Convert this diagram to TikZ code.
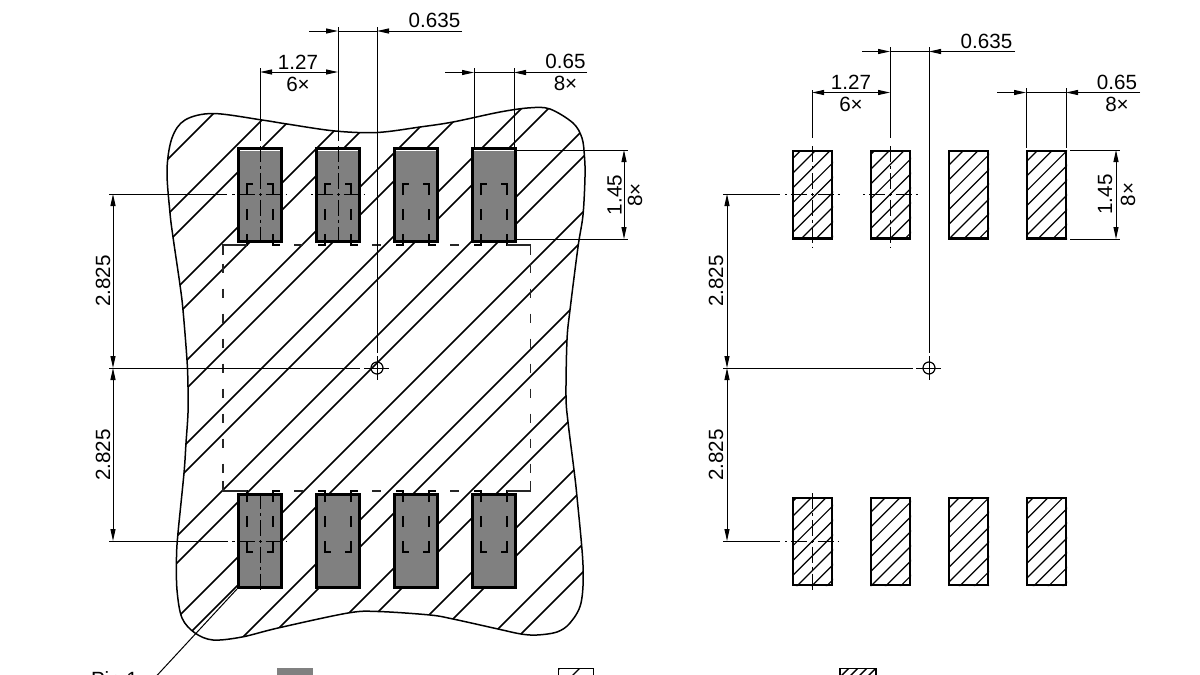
\documentclass[tikz,border=0pt]{standalone}
\usepackage{fontspec}
\setmainfont{Liberation Sans}
\usetikzlibrary{arrows.meta}
\definecolor{padgray}{HTML}{808080}
\tikzset{
  x=1pt,y=-1pt,
  thinl/.style={line width=1pt,black},
  dimline/.style={line width=1pt,black,{Triangle[length=12pt,width=5pt]}-{Triangle[length=12pt,width=5pt]}},
  leadin/.style={line width=1pt,black,-{Triangle[length=12pt,width=5pt]}},
  cl/.style={line width=1pt,black,dash pattern=on 3pt off 4pt on 16pt off 4pt,dash phase=1.5pt},
  hat/.style={line width=1.45pt,black},
  fine/.style={line width=1.2pt,black},
  pkg/.style={line width=1.05pt,black!85},
  dimtxt/.style={font=\fontsize{20.6}{24}\selectfont,inner sep=0pt,outer sep=0pt,anchor=base,text=black},
  vtxt/.style={dimtxt,rotate=90},
}
% center mark: x,y,left,right,top,bottom
\newcommand{\ctrmark}[6]{%
  \draw[cl] (#1,#2)--(#3,#2);\draw[cl] (#1,#2)--(#4,#2);
  \draw[cl] (#1,#2)--(#1,#5);\draw[cl] (#1,#2)--(#1,#6);}
\begin{document}
\begin{tikzpicture}
\useasboundingbox (0,0) rectangle (1200,675);
\fill[white] (0,0) rectangle (1200,675);
\clip (0,0) rectangle (1200,675);
% ---- left figure: outline and wide hatch
\def\outline{plot[smooth cycle,tension=.55] coordinates {
 (167,170)(172,138)(185,120)(213,113.5)(262,120)(287,124)(335,131)(377,132.5)(420,127)(453,122)(500,112)(530,107.8)(550,109)(573,123)(582,138)(584.5,157)(585,177)(583,215)(578,247)(570,310)(567,340)(566,396)(568,422)(574,470)(577,497)(583,565)(581,603)(570,623)(557,632)(537,635)(521,634)(498,629)(453,619)(430,615)(378,611.5)(348,613)(278,628)(242,637)(213,640)(195,633)(182,618)(177,590)(176.5,557)(178,533)(184,473)(186,443)(188,413)(188,387)(187,360)(183,310)(180,285)(173,237)(170,213)}}
\begin{scope}
 \clip \outline;
 \foreach \c in {299,327,382,410,465,492,547,575,630,657,713,740,795,823,880,907,962,990,1044,1072,1127,1155,1210,1237}
  \draw[hat] ({\c-90},90)--({\c-660},660);
\end{scope}
\draw[line width=1.5pt,black] \outline;
% ---- left figure: pads
\foreach \cx in {260,338,416,494}{
  \fill[white] (\cx-22,148) rectangle (\cx+22,242);
  \fill[padgray] (\cx-20,150.5) rectangle (\cx+19.5,240.5);
  \draw[line width=3pt,black] (\cx-21.6,148.4) rectangle (\cx+21.6,241.2);
  \fill[white] (\cx-22,494) rectangle (\cx+22,588);
  \fill[padgray] (\cx-20,495.5) rectangle (\cx+19.5,586.3);
  \draw[line width=3pt,black] (\cx-21.6,494.4) rectangle (\cx+21.6,587.6);
  % inner openings, top
  \draw[fine] (\cx-13,195)--(\cx-13,184)--(\cx-7,184) (\cx+13,195)--(\cx+13,184)--(\cx+7,184);
  \draw[fine] (\cx-13,209)--(\cx-13,220) (\cx+13,209)--(\cx+13,220);
  \draw[fine] (\cx-13,234)--(\cx-13,245)--(\cx-20,245) (\cx+13,234)--(\cx+13,245)--(\cx+20,245);
  % inner openings, bottom
  \draw[fine] (\cx-13,541)--(\cx-13,552)--(\cx-7,552) (\cx+13,541)--(\cx+13,552)--(\cx+7,552);
  \draw[fine] (\cx-13,516)--(\cx-13,527) (\cx+13,516)--(\cx+13,527);
  \draw[fine] (\cx-13,502)--(\cx-13,491)--(\cx-20,491) (\cx+13,502)--(\cx+13,491)--(\cx+20,491);
}
% ---- package dashed outline
\draw[pkg] (247,245)--(223,245)--(223,255) (507,245)--(530.5,245)--(530.5,255)
           (247,491)--(223,491)--(223,481) (507,491)--(530.5,491)--(530.5,481);
\foreach \d in {298.5,376.5,454.5}{
  \draw[pkg] (\d-4.5,245)--(\d+4.5,245) (\d-4.5,491)--(\d+4.5,491);}
\foreach \k in {-4,...,4}{
  \draw[pkg] (223,368+25*\k-4.5)--(223,368+25*\k+4.5) (530.5,368+25*\k-4.5)--(530.5,368+25*\k+4.5);}
% ---- left figure: center lines and extension lines
\ctrmark{260}{194}{231}{287}{143}{246}
\ctrmark{338}{194}{311}{365}{143}{246}
\ctrmark{260}{541}{232}{287}{490}{593}
\draw[thinl] (109,194)--(227,194) (109,368)--(360,368) (109,541)--(228,541);
\draw[thinl] (260,68)--(260,141) (338,27)--(338,141) (377,27)--(377,353);
\draw[thinl] (474,68)--(474,147) (514,68)--(514,147);
\draw[thinl] (517,150)--(628,150) (517,239)--(628,239);
\draw[fine] (377,368) circle[radius=6];
\draw[thinl] (364,368)--(389,368) (377,356)--(377,380);
% ---- left figure: dimensions
\draw[leadin] (309,31)--(338,31);
\draw[leadin] (462,31)--(377,31);
\draw[thinl] (338,31)--(377,31);
\node[dimtxt] (la) at (434.5,27) {0.635};
\draw[dimline] (260,72)--(338,72);
\node[dimtxt] (lb) at (298,69) {1.27};
\node[dimtxt] (lc) at (298,91) {6×};
\draw[leadin] (445,72.5)--(474,72.5);
\draw[leadin] (587,72.5)--(514,72.5);
\draw[thinl] (474,72.5)--(514,72.5);
\node[dimtxt] (ld) at (565.5,68) {0.65};
\node[dimtxt] (le) at (565.5,90) {8×};
\draw[dimline] (624,150)--(624,239);
\node[vtxt] (lf) at (621.5,195) {1.45};
\node[vtxt] (lg) at (642,195) {8×};
\draw[dimline] (113,194)--(113,368);
\draw[dimline] (113,368)--(113,541);
\node[vtxt] (lh) at (110,281) {2.825};
\node[vtxt] (li) at (110,455) {2.825};
% ---- pin 1 leader
\draw[thinl] (237,589)--(150,683);
\node[dimtxt,anchor=base west] (pin) at (91,686.5) {Pin 1};
% ---- right figure: pads
\begin{scope}
 \clip (792,150) rectangle (833,239.5) (870,150) rectangle (911,239.5) (948,150) rectangle (989,239.5) (1026,150) rectangle (1067,239.5);
 \foreach \k in {-17,...,9}
  \draw[fine] ({1188+14.8*\k-145},145)--({1188+14.8*\k-245},245);
\end{scope}
\begin{scope}
 \clip (792,497) rectangle (833,586) (870,497) rectangle (911,586) (948,497) rectangle (989,586) (1026,497) rectangle (1067,586);
 \foreach \k in {-7,...,19}
  \draw[fine] ({1383+14.8*\k-490},490)--({1383+14.8*\k-590},590);
\end{scope}
\foreach \cx in {812.5,890.5,968.5,1046.5}{
  \draw[line width=2.4pt,black] (\cx-19.5,151)--(\cx+19.5,151)--(\cx+19.5,238.5)--(\cx-19.5,238.5)--cycle;
  \draw[line width=2.4pt,black] (\cx-19.5,498)--(\cx+19.5,498)--(\cx+19.5,585)--(\cx-19.5,585)--cycle;
}
\ctrmark{812}{194}{785}{840}{143}{247}
\ctrmark{890}{194}{863}{918}{143}{247}
\ctrmark{812}{541}{785}{839}{490}{593}
\draw[thinl] (723,194)--(780,194) (723,368)--(913,368) (723,541)--(780,541);
\draw[thinl] (812,90)--(812,138) (890,47)--(890,138) (929,47)--(929,353);
\draw[thinl] (1026,88)--(1026,148) (1066,88)--(1066,148);
\draw[thinl] (1070,150)--(1120,150) (1070,239)--(1120,239);
\draw[fine] (929,368) circle[radius=6];
\draw[thinl] (916,368)--(941,368) (929,356)--(929,380);
% ---- right figure: dimensions
\draw[leadin] (862,51.5)--(890,51.5);
\draw[leadin] (1015,51.5)--(929,51.5);
\draw[thinl] (890,51.5)--(929,51.5);
\node[dimtxt] (ra) at (986.5,48) {0.635};
\draw[dimline] (812,92.5)--(890,92.5);
\node[dimtxt] (rb) at (851,89) {1.27};
\node[dimtxt] (rc) at (851,111.5) {6×};
\draw[leadin] (997,92.5)--(1026,92.5);
\draw[leadin] (1140,92.5)--(1066,92.5);
\draw[thinl] (1026,92.5)--(1066,92.5);
\node[dimtxt] (rd) at (1117,89) {0.65};
\node[dimtxt] (re) at (1117,111.5) {8×};
\draw[dimline] (1116,150)--(1116,239);
\node[vtxt] (rf) at (1112,194.5) {1.45};
\node[vtxt] (rg) at (1135,194.5) {8×};
\draw[dimline] (727,194)--(727,368);
\draw[dimline] (727,368)--(727,541);
\node[vtxt] (rh) at (723,281) {2.825};
\node[vtxt] (ri) at (723,455) {2.825};
% ---- legend (cut by the lower edge)
\fill[padgray] (277,668) rectangle (313,700);
\begin{scope}
 \clip (558,668) rectangle (594,700);
 \foreach \c in {1228,1248,1285}
  \draw[fine] ({\c-660},660)--({\c-700},700);
\end{scope}
\draw[line width=1.2pt,black] (558.5,668.5) rectangle (593.5,700);
\begin{scope}
 \clip (840,668) rectangle (876,700);
 \foreach \c in {1517,1526,1535,1544}
  \draw[line width=1.4pt,black] ({\c-660},660)--({\c-700},700);
\end{scope}
\draw[line width=1.4pt,black] (840,668.5) rectangle (876,700);
\node[dimtxt,anchor=base west] (lgd) at (606,690) {Solder mask};
\end{tikzpicture}
\end{document}
